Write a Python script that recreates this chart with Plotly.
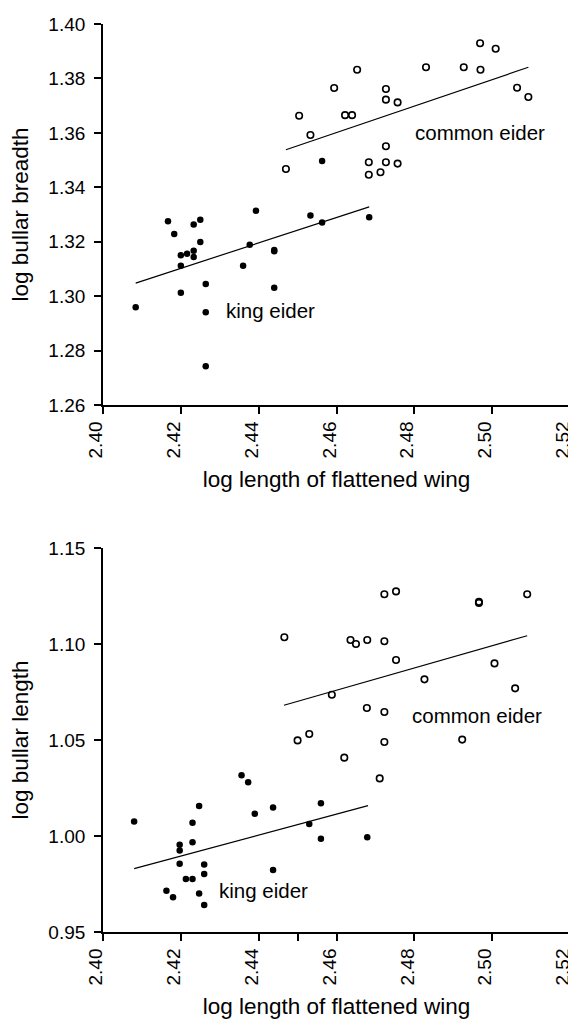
import plotly.graph_objects as go

# ---------------- data ----------------
# Top panel: log bullar breadth vs log wing length
top_common_x = [2.4470, 2.4504, 2.4533, 2.4594, 2.4622, 2.4640, 2.4653, 2.4683, 2.4683, 2.4713,
                2.4727, 2.4727, 2.4727, 2.4727, 2.4757, 2.4757, 2.4830, 2.4927, 2.4969, 2.4970,
                2.5009, 2.5064, 2.5093]
top_common_y = [1.3467, 1.3663, 1.3592, 1.3765, 1.3665, 1.3665, 1.3832, 1.3492, 1.3446, 1.3455,
                1.3761, 1.3722, 1.3551, 1.3492, 1.3712, 1.3487, 1.3841, 1.3841, 1.3929, 1.3832,
                1.3909, 1.3766, 1.3732]
top_king_x = [2.4084, 2.4167, 2.4183, 2.4200, 2.4200, 2.4200, 2.4216, 2.4233, 2.4233, 2.4233,
              2.4250, 2.4250, 2.4264, 2.4264, 2.4264, 2.4360, 2.4377, 2.4393, 2.4440, 2.4440,
              2.4440, 2.4533, 2.4563, 2.4563, 2.4684]
top_king_y = [1.2959, 1.3275, 1.3228, 1.3150, 1.3112, 1.3012, 1.3156, 1.3167, 1.3144, 1.3263,
              1.3281, 1.3199, 1.3045, 1.2941, 1.2742, 1.3112, 1.3189, 1.3314, 1.3170, 1.3165,
              1.3031, 1.3296, 1.3271, 1.3497, 1.3290]
top_common_fit_x = [2.4470, 2.5093]
top_common_fit_y = [1.3538, 1.3841]
top_king_fit_x = [2.4084, 2.4684]
top_king_fit_y = [1.3048, 1.3328]

# Bottom panel: log bullar length vs log wing length
bot_common_x = [2.4466, 2.4500, 2.4530, 2.4588, 2.4620, 2.4636, 2.4650, 2.4678, 2.4679, 2.4711,
                2.4723, 2.4723, 2.4723, 2.4723, 2.4753, 2.4753, 2.4826, 2.4923, 2.4966, 2.4966,
                2.5006, 2.5059, 2.5090]
bot_common_y = [1.1035, 1.0498, 1.0531, 1.0736, 1.0408, 1.1021, 1.1000, 1.0667, 1.1021, 1.0300,
                1.1259, 1.1014, 1.0646, 1.0490, 1.1274, 1.0917, 1.0816, 1.0502, 1.1214, 1.1220,
                1.0899, 1.0769, 1.1259]
bot_king_x = [2.4080, 2.4163, 2.4180, 2.4197, 2.4197, 2.4197, 2.4213, 2.4230, 2.4230, 2.4230,
              2.4247, 2.4247, 2.4260, 2.4260, 2.4260, 2.4356, 2.4373, 2.4390, 2.4437, 2.4437,
              2.4530, 2.4560, 2.4560, 2.4679]
bot_king_y = [1.0076, 0.9715, 0.9681, 0.9955, 0.9925, 0.9856, 0.9776, 1.0069, 0.9967, 0.9776,
              1.0156, 0.9701, 0.9851, 0.9802, 0.9641, 1.0316, 1.0280, 1.0116, 1.0149, 0.9823,
              1.0063, 1.0170, 0.9986, 0.9993]
bot_common_fit_x = [2.4465, 2.5090]
bot_common_fit_y = [1.0681, 1.1043]
bot_king_fit_x = [2.4080, 2.4681]
bot_king_fit_y = [0.9830, 1.0158]

# axes / ticks
x_ticks_top = [2.40, 2.42, 2.44, 2.46, 2.48, 2.50, 2.52]
x_labels_top = ["2.40", "2.42", "2.44", "2.46", "2.48", "2.50", "2.52"]
x_ticks_bot = [2.40, 2.42, 2.44, 2.45, 2.46, 2.48, 2.50, 2.52]
x_labels_bot = ["2.40", "2.42", "2.44", "", "2.46", "2.48", "2.50", "2.52"]
y_range_top = [1.26, 1.40]
y_range_bot = [0.95, 1.15]
x_range = [2.40, 2.52]

x_title = "log length of flattened wing"
y_title_top = "log bullar breadth"
y_title_bot = "log bullar length"
label_common = "common eider"
label_king = "king eider"
label_pos_top = {"common": (2.4970, 1.3603), "king": (2.4431, 1.2946)}
label_pos_bot = {"common": (2.4960, 1.0629), "king": (2.4413, 0.9715)}

# ---------------- figure ----------------
FONT = "Liberation Sans, Arial, Helvetica, sans-serif"
fig = go.Figure()

open_marker = dict(symbol="circle-open", size=6.5, color="black", line=dict(width=1.6, color="black"))
fill_marker = dict(symbol="circle", size=6.5, color="black")
fit_line = dict(color="black", width=1.2)

def add_panel(cx, cy, kx, ky, cfx, cfy, kfx, kfy, xa, ya):
    fig.add_trace(go.Scatter(x=cx, y=cy, mode="markers", marker=open_marker, name=label_common,
                             xaxis=xa, yaxis=ya, showlegend=False, cliponaxis=False))
    fig.add_trace(go.Scatter(x=kx, y=ky, mode="markers", marker=fill_marker, name=label_king,
                             xaxis=xa, yaxis=ya, showlegend=False, cliponaxis=False))
    fig.add_trace(go.Scatter(x=cfx, y=cfy, mode="lines", line=fit_line,
                             xaxis=xa, yaxis=ya, showlegend=False, hoverinfo="skip"))
    fig.add_trace(go.Scatter(x=kfx, y=kfy, mode="lines", line=fit_line,
                             xaxis=xa, yaxis=ya, showlegend=False, hoverinfo="skip"))

add_panel(top_common_x, top_common_y, top_king_x, top_king_y,
          top_common_fit_x, top_common_fit_y, top_king_fit_x, top_king_fit_y, "x", "y")
add_panel(bot_common_x, bot_common_y, bot_king_x, bot_king_y,
          bot_common_fit_x, bot_common_fit_y, bot_king_fit_x, bot_king_fit_y, "x2", "y2")

axis_common = dict(showgrid=False, zeroline=False, showline=True, linecolor="black",
                   linewidth=1.8, ticks="outside", ticklen=7, tickwidth=1.5, tickcolor="black",
                   ticklabeloverflow="allow", automargin=False,
                   tickfont=dict(family=FONT, size=19, color="black"))
title_font = dict(family=FONT, size=22.5, color="black")

fig.update_layout(
    width=576, height=1019,
    margin=dict(l=95, r=14, t=16, b=95),
    paper_bgcolor="white", plot_bgcolor="white",
    font=dict(family=FONT, color="black"),
    xaxis=dict(axis_common, domain=[0, 1], range=x_range, anchor="y",
               tickmode="array", tickvals=x_ticks_top, ticktext=x_labels_top, tickangle=-90,
               ticklabelshift=-7,
               title=dict(text=x_title, font=title_font, standoff=14)),
    yaxis=dict(axis_common, domain=[0.5804, 1.0], range=y_range_top, anchor="x",
               dtick=0.02, tickformat=".2f", ticklabelstandoff=5,
               title=dict(text=y_title_top, font=title_font, standoff=15)),
    xaxis2=dict(axis_common, domain=[0, 1], range=x_range, anchor="y2",
                tickmode="array", tickvals=x_ticks_bot, ticktext=x_labels_bot, tickangle=-90,
                ticklabelshift=-7,
                title=dict(text=x_title, font=title_font, standoff=14)),
    yaxis2=dict(axis_common, domain=[0.0, 0.4229], range=y_range_bot, anchor="x2",
                dtick=0.05, tickformat=".2f", ticklabelstandoff=5,
                title=dict(text=y_title_bot, font=title_font, standoff=15)),
)

for (pos, xr, yr) in [(label_pos_top, "x", "y"), (label_pos_bot, "x2", "y2")]:
    for key, txt in [("common", label_common), ("king", label_king)]:
        fig.add_annotation(x=pos[key][0], y=pos[key][1], xref=xr, yref=yr, text=txt,
                           showarrow=False, xanchor="center", yanchor="middle",
                           font=dict(family=FONT, size=20.5, color="black"))

fig.write_html("out.html")
